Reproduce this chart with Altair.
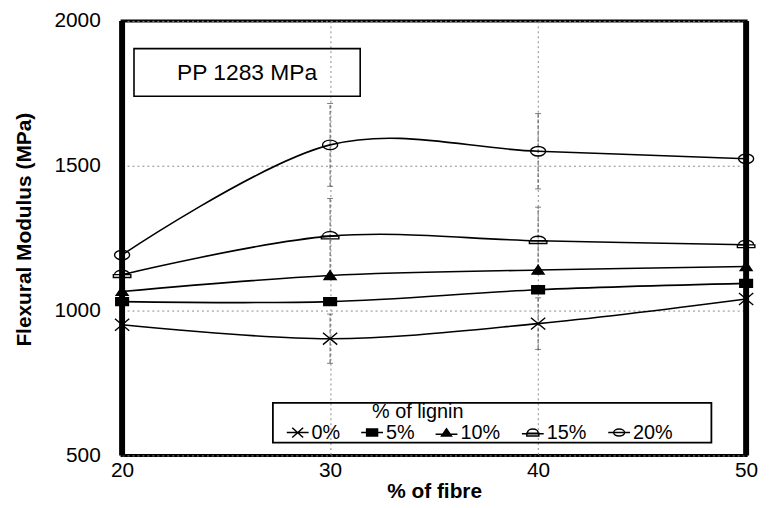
import altair as alt
import pandas as pd

FONT = "Liberation Sans"

# ---- data ----
fibre = [20, 30, 40, 50]
lignin_levels = ["0%", "5%", "10%", "15%", "20%"]
modulus_0 = [951, 903, 955, 1040]
modulus_5 = [1031, 1031, 1072, 1094]
modulus_10 = [1066, 1121, 1140, 1152]
modulus_15 = [1124, 1257, 1241, 1227]
modulus_20 = [1192, 1572, 1550, 1524]

err_fibre = [30, 40, 30, 40, 30, 40]
err_low = [818, 866, 1127, 1125, 1429, 1420]
err_high = [988, 1044, 1387, 1357, 1715, 1680]

x_ticks = [20, 30, 40, 50]
y_ticks = [500, 1000, 1500, 2000]

df = pd.DataFrame({
    "fibre": fibre * 5,
    "lignin": [l for l in lignin_levels for _ in fibre],
    "modulus": modulus_0 + modulus_5 + modulus_10 + modulus_15 + modulus_20,
})
df_err = pd.DataFrame({"fibre": err_fibre, "low": err_low, "high": err_high})

W, H = 629, 438

x_scale = alt.Scale(domain=[20, 50], nice=False, zero=False)
y_scale = alt.Scale(domain=[500, 2000], nice=False, zero=False)

x_axis = alt.Axis(values=x_ticks, format="d", title="% of fibre", ticks=False, domain=False,
                  grid=True, gridDash=[2, 3], gridColor="#8a8a8a", gridWidth=1,
                  labelFont=FONT, labelFontSize=21, labelColor="black", labelPadding=4,
                  labelFlush=False,
                  titleFont=FONT, titleFontSize=21, titleFontWeight="bold", titleColor="black",
                  titlePadding=0)
y_axis = alt.Axis(values=y_ticks, format="d", title="Flexural Modulus (MPa)", ticks=False, domain=False,
                  grid=True, gridDash=[2, 3], gridColor="#8a8a8a", gridWidth=1,
                  labelFont=FONT, labelFontSize=21, labelColor="black", labelPadding=22,
                  labelFlush=False,
                  titleFont=FONT, titleFontSize=21, titleFontWeight="bold", titleColor="black",
                  titlePadding=20, titleY=210)

x_enc = alt.X("fibre:Q", scale=x_scale, axis=x_axis)
y_enc = alt.Y("modulus:Q", scale=y_scale, axis=y_axis)

plot_shapes = [
    "M-0.9,-0.75L0.9,0.75M-0.9,0.75L0.9,-0.75",
    "M-0.8,-0.5H0.8V0.5H-0.8Z",
    "M-0.75,0.5L0,-0.6L0.75,0.5Z",
    "M-1.1,0.35H1.1V0H-1.1ZM-0.95,0C-0.95,-0.75 0.95,-0.75 0.95,0",
    "M-0.95,0A0.95,0.6 0 1,0 0.95,0A0.95,0.6 0 1,0 -0.95,0Z",
]
legend_shapes = [
    "M-1,0H1M-0.5,-0.45L0.5,0.45M-0.5,0.45L0.5,-0.45",
    "M-1,0H1M-0.5,-0.32H0.5V0.32H-0.5Z",
    "M-1,0.15H1M-0.45,0.3L0,-0.35L0.45,0.3Z",
    "M-1,0.1H1M-0.55,0.3H0.55V0.05H-0.55ZM-0.5,0.05C-0.5,-0.45 0.5,-0.45 0.5,0.05",
    "M-1,0H1M-0.5,0A0.5,0.32 0 1,0 0.5,0A0.5,0.32 0 1,0 -0.5,0Z",
]
fill_range = ["black", "black", "black", "transparent", "transparent"]
stroke_range = ["black", "black", "black", "black", "black"]

base = alt.Chart(df)

errbars = alt.Chart(df_err).mark_rule(color="#555555", strokeWidth=1, strokeDash=[4, 2]).encode(
    x=x_enc, y=alt.Y("low:Q", scale=y_scale, axis=y_axis), y2="high:Q")
caps_low = alt.Chart(df_err).mark_tick(color="#444444", thickness=1, size=6, orient="horizontal").encode(
    x=x_enc, y=alt.Y("low:Q", scale=y_scale, axis=y_axis))
caps_high = alt.Chart(df_err).mark_tick(color="#444444", thickness=1, size=6, orient="horizontal").encode(
    x=x_enc, y=alt.Y("high:Q", scale=y_scale, axis=y_axis))

lines = base.mark_line(interpolate="cardinal", color="black", strokeWidth=1.6).encode(
    x=x_enc, y=y_enc, detail="lignin:N")

points = base.mark_point(filled=True, size=256, stroke="black", strokeWidth=1.4, opacity=1).encode(
    x=x_enc, y=y_enc,
    shape=alt.Shape("lignin:N", scale=alt.Scale(domain=lignin_levels, range=plot_shapes), legend=None),
    fill=alt.Fill("lignin:N", scale=alt.Scale(domain=lignin_levels, range=fill_range), legend=None),
)

leg = alt.Legend(title=None, orient="none", legendX=165, legendY=403, direction="horizontal",
                 columns=5, symbolSize=484, symbolStrokeWidth=1.5,
                 symbolOpacity=1, labelFont=FONT, labelFontSize=20, labelColor="black",
                 labelOffset=2, columnPadding=18, padding=0)

legend_layer = base.mark_point(filled=True, size=484, opacity=0, strokeWidth=1.5).encode(
    x=x_enc, y=y_enc,
    shape=alt.Shape("lignin:N", scale=alt.Scale(domain=lignin_levels, range=legend_shapes), legend=leg),
    fill=alt.Fill("lignin:N", scale=alt.Scale(domain=lignin_levels, range=fill_range), legend=leg),
    stroke=alt.Stroke("lignin:N", scale=alt.Scale(domain=lignin_levels, range=stroke_range), legend=leg),
)

ann = pd.DataFrame({"label": ["PP 1283 MPa"]})
pp_box = alt.Chart(ann).mark_rect(fillOpacity=0, stroke="black", strokeWidth=1.6).encode(
    x=alt.value(12), x2=alt.value(240), y=alt.value(28), y2=alt.value(76))
pp_text = alt.Chart(ann).mark_text(font=FONT, fontSize=23, color="black", align="center",
                                   baseline="middle").encode(
    text="label:N", x=alt.value(126), y=alt.value(53))

leg_ann = pd.DataFrame({"label": ["% of lignin"]})
leg_box = alt.Chart(leg_ann).mark_rect(fillOpacity=0, stroke="black", strokeWidth=1.8).encode(
    x=alt.value(152), x2=alt.value(594), y=alt.value(385), y2=alt.value(425))
leg_title = alt.Chart(leg_ann).mark_text(font=FONT, fontSize=20, color="black", align="center",
                                         baseline="middle").encode(
    text="label:N", x=alt.value(298), y=alt.value(394))

frame_df = pd.DataFrame({"k": [0]})
left_rule = alt.Chart(frame_df).mark_rule(color="black", strokeWidth=6).encode(
    x=alt.value(0), y=alt.value(0), y2=alt.value(H))
right_rule = alt.Chart(frame_df).mark_rule(color="black", strokeWidth=6).encode(
    x=alt.value(W), y=alt.value(0), y2=alt.value(H))

chart = alt.layer(
    errbars, caps_low, caps_high, lines, points, legend_layer,
    pp_box, pp_text, leg_box, leg_title, left_rule, right_rule,
).resolve_scale(
    shape="independent", fill="independent", stroke="independent"
).properties(
    width=W, height=H,
    autosize=alt.AutoSizeParams(type="none"),
    padding={"left": 115, "top": 11, "right": 15, "bottom": 51},
    background="white",
).configure_view(stroke="black", strokeWidth=3)

chart.save("out.html", embed_options={"renderer": "svg", "actions": False})
